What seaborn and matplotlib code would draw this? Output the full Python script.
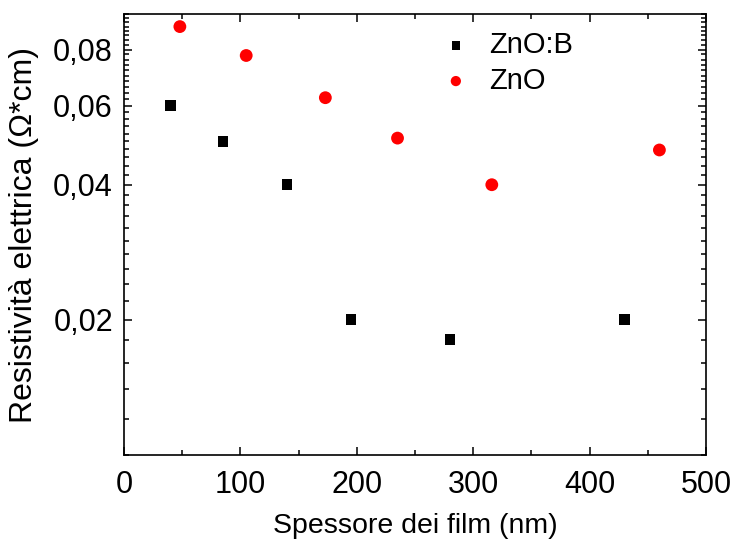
import matplotlib
matplotlib.use("Agg")
import matplotlib.pyplot as plt
import matplotlib.ticker as mticker
import seaborn as sns
import pandas as pd

# Data
znob_x = [40, 85, 140, 195, 280, 430]
znob_y = [0.060, 0.050, 0.040, 0.020, 0.0181, 0.020]
zno_x = [48, 105, 173, 235, 316, 460]
zno_y = [0.090, 0.0776, 0.0625, 0.0508, 0.040, 0.0478]
ytick_vals = [0.02, 0.04, 0.06, 0.08]
ytick_labels = ["0,02", "0,04", "0,06", "0,08"]
xtick_vals = [0, 100, 200, 300, 400, 500]

sns.set_style("ticks")
plt.rcParams['font.family'] = ['Liberation Sans', 'DejaVu Sans']
plt.rcParams['text.color'] = 'black'
plt.rcParams['axes.labelcolor'] = 'black'

fig = plt.figure(figsize=(7.35, 5.43), dpi=100)
ax = fig.add_axes([0.1687, 0.162, 0.7918, 0.8122])

df_b = pd.DataFrame({"x": znob_x, "y": znob_y})
df_z = pd.DataFrame({"x": zno_x, "y": zno_y})

sns.scatterplot(data=df_b, x="x", y="y", marker="s", color="black", s=60,
                edgecolor="none", label="ZnO:B", ax=ax, zorder=3)
sns.scatterplot(data=df_z, x="x", y="y", marker="o", color="red", s=85,
                edgecolor="none", label="ZnO", ax=ax, zorder=3)

ax.set_yscale("log")
ax.set_xlim(0, 500)
ax.set_ylim(0.01, 0.096)
ax.set_yticks(ytick_vals)
ax.set_yticklabels(ytick_labels)
ax.yaxis.set_minor_locator(mticker.MultipleLocator(0.002))
ax.yaxis.set_minor_formatter(mticker.NullFormatter())
ax.set_xticks(xtick_vals)
ax.xaxis.set_minor_locator(mticker.MultipleLocator(50))

ax.tick_params(which="both", direction="in", top=True, right=True,
               labelsize=22, width=1.1, pad=8, colors="black")
ax.tick_params(axis="x", which="both", pad=11)
ax.tick_params(which="major", length=6)
ax.tick_params(which="minor", length=3.5)
for sp in ax.spines.values():
    sp.set_linewidth(1.2)
    sp.set_color("black")

ax.set_xlabel("Spessore dei film (nm)", fontsize=20.5, labelpad=9)
ax.set_ylabel("Resistività elettrica (Ω*cm)", fontsize=23, labelpad=10)

leg = ax.legend(loc="upper left", bbox_to_anchor=(0.475, 1.02), frameon=False,
                fontsize=21, handletextpad=0.15, labelspacing=0.25,
                markerscale=0.8)

fig.savefig("out.png", dpi=100)
